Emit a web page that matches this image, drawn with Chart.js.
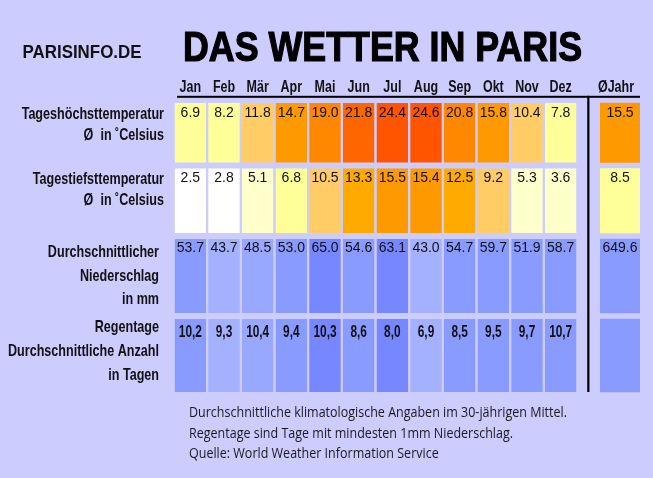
<!DOCTYPE html>
<html>
<head>
<meta charset="utf-8">
<title>Das Wetter in Paris</title>
<script src="https://cdn.jsdelivr.net/npm/chart.js@4.4.1/dist/chart.umd.min.js"></script>
<style>
	html, body { margin: 0; padding: 0; background: #ccccff; }
	#wrap { position: relative; width: 653px; height: 478px; }
</style>
</head>
<body>
<div id="wrap"><canvas id="wetter" width="653" height="478"></canvas></div>
<script>

var monate = ["Jan", "Feb", "Mär", "Apr", "Mai", "Jun", "Jul", "Aug", "Sep", "Okt", "Nov", "Dez"];
var jahrSpalte = ["", "ØJahr"];

var hoechst = [6.9, 8.2, 11.8, 14.7, 19.0, 21.8, 24.4, 24.6, 20.8, 15.8, 10.4, 7.8];
var tiefst = [2.5, 2.8, 5.1, 6.8, 10.5, 13.3, 15.5, 15.4, 12.5, 9.2, 5.3, 3.6];
var niederschlag = [53.7, 43.7, 48.5, 53.0, 65.0, 54.6, 63.1, 43.0, 54.7, 59.7, 51.9, 58.7];
var regentage = [10.2, 9.3, 10.4, 9.4, 10.3, 8.6, 8.0, 6.9, 8.5, 9.5, 9.7, 10.7];

var hoechstJahr = 15.5;
var tiefstJahr = 8.5;
var niederschlagJahr = 649.6;
var regentageJahr = null;

var zeilenTitel = [
	["Tageshöchsttemperatur", "Ø  in ˚Celsius"],
	["Tagestiefsttemperatur", "Ø  in ˚Celsius"],
	["Durchschnittlicher", "Niederschlag", "in mm"],
	["Regentage", "Durchschnittliche Anzahl", "in Tagen"]
];

var fussnote = [
	"Durchschnittliche klimatologische Angaben im 30-jährigen Mittel.",
	"Regentage sind Tage mit mindesten 1mm Niederschlag.",
	"Quelle: World Weather Information Service"
];

var HG = "#ccccff";

function farbeTemp(v){
	if (v < 3) return "#ffffff";
	if (v < 6) return "#ffffcc";
	if (v < 9) return "#ffff99";
	if (v < 12) return "#ffcc66";
	if (v < 14) return "#ffaa00";
	if (v < 18) return "#ff9900";
	if (v < 21) return "#ff8800";
	if (v < 24) return "#ff6600";
	return "#ff5500";
}

function farbeRegen(mm){
	if (mm < 45) return "#a3b1ff";
	if (mm < 50) return "#98a8ff";
	if (mm < 60) return "#8a9bff";
	return "#7787ff";
}

// Zeilen: Werte, Farben, Textformat
var zeilen = [
	{ werte: hoechst, jahr: hoechstJahr, farben: hoechst.map(farbeTemp), jahrFarbe: farbeTemp(hoechstJahr) },
	{ werte: tiefst, jahr: tiefstJahr, farben: tiefst.map(farbeTemp), jahrFarbe: farbeTemp(tiefstJahr) },
	{ werte: niederschlag, jahr: niederschlagJahr, farben: niederschlag.map(farbeRegen), jahrFarbe: farbeRegen(niederschlagJahr / 12) },
	{ werte: regentage, jahr: regentageJahr, farben: niederschlag.map(farbeRegen), jahrFarbe: farbeRegen(niederschlagJahr / 12) }
];

// Zeilenhoehen (px) und Textlage
var zeilenHoehe = [65.5, 70.5, 80, 79];
var titelRechts = [164, 164, 159, 159];
var titelErste = [15.5, 15.5, 18, 13];
var titelAbstand = [21, 21, 23.5, 24];
var wertOben = [14, 13.5, 13, 18];

var datasets = [];
zeilen.forEach(function(z, r){
	var rand = { top: 3, bottom: 3, left: 0, right: 0 };
	datasets.push({
		xAxisID: "x",
		yAxisID: "y" + r,
		data: z.werte.map(function(){ return [0, 1]; }),
		backgroundColor: z.farben,
		borderColor: HG,
		borderWidth: rand,
		borderSkipped: false,
		grouped: false,
		barPercentage: 0.94,
		categoryPercentage: 1
	});
	datasets.push({
		xAxisID: "xJ",
		yAxisID: "y" + r,
		data: [null, [0, 1]],
		backgroundColor: z.jahrFarbe,
		borderColor: HG,
		borderWidth: rand,
		borderSkipped: false,
		grouped: false,
		barThickness: 40,
		clip: false
	});
});

var scales = {
	x: { type: "category", labels: monate, position: "top", stack: "spalten", stackWeight: 404, weight: 2, offset: true, display: false },
	xJ: { type: "category", labels: jahrSpalte, position: "top", stack: "spalten", stackWeight: 56.67, weight: 1, offset: true, display: false }
};
zeilenHoehe.forEach(function(h, r){
	scales["y" + r] = { type: "linear", min: 0, max: 1, position: "left", stack: "zeilen", stackWeight: h, weight: 4 - r, display: false };
});

function schrift(ctx, text, x, y, font, sx, align, color){
	ctx.save();
	ctx.font = font;
	ctx.fillStyle = color || "#000";
	ctx.textAlign = align || "left";
	ctx.textBaseline = "alphabetic";
	ctx.translate(x, y);
	ctx.scale(sx, 1);
	ctx.fillText(text, 0, 0);
	ctx.restore();
}

function breite(ctx, text, font){
	ctx.save();
	ctx.font = font;
	var w = ctx.measureText(text).width;
	ctx.restore();
	return w;
}

var tabelleText = {
	id: "tabelleText",
	afterDraw: function(chart){
		var ctx = chart.ctx;
		var xs = chart.scales.x;
		var xj = chart.scales.xJ;
		var jahrX = xj.getPixelForValue(1);

		// Kopf
		var fLogo = "bold 17.5px 'Liberation Sans', Arial, sans-serif";
		schrift(ctx, "PARISINFO.DE", 22.5, 57.5, fLogo, 119 / breite(ctx, "PARISINFO.DE", fLogo), "left", "#111");
		var fTitel = "bold 42px 'Liberation Sans', Arial, sans-serif";
		var titel = "DAS WETTER IN PARIS";
		ctx.save();
		ctx.strokeStyle = "#000";
		ctx.lineWidth = 1.2;
		ctx.font = fTitel;
		var sxT = 399 / ctx.measureText(titel).width;
		ctx.translate(183, 61);
		ctx.scale(sxT, 1);
		ctx.fillStyle = "#000";
		ctx.fillText(titel, 0, 0);
		ctx.strokeText(titel, 0, 0);
		ctx.restore();

		// Monatsnamen
		var fMonat = "bold 16px 'Liberation Sans', Arial, sans-serif";
		monate.forEach(function(m, i){
			schrift(ctx, m, xs.getPixelForValue(i), 92, fMonat, 0.78, "center", "#111");
		});
		schrift(ctx, jahrSpalte[1], jahrX - 4, 92, fMonat, 0.78, "center", "#111");

		// Linien
		ctx.save();
		ctx.fillStyle = "#000";
		ctx.fillRect(177, 95.8, jahrX + 20 - 177, 2);
		var dezRechts = xs.getPixelForValue(11) + 15.8;
		var trenn = (dezRechts + jahrX - 20) / 2;
		ctx.fillRect(trenn - 1, 95.8, 2.2, chart.scales.y3.getPixelForValue(0) - 3 - 95.8);
		ctx.restore();

		// Zeilentitel und Werte
		var fTitelZeile = "bold 17px 'Liberation Sans', Arial, sans-serif";
		var fWert = "14px 'Liberation Sans', Arial, sans-serif";
		var fTage = "bold 16px 'Liberation Sans', Arial, sans-serif";
		zeilen.forEach(function(z, r){
			var oben = chart.scales["y" + r].getPixelForValue(1) + 3;
			zeilenTitel[r].forEach(function(t, k){
				schrift(ctx, t, titelRechts[r], oben + titelErste[r] + k * titelAbstand[r], fTitelZeile, 0.74, "right", "#111");
			});
			var alle = z.werte.concat([z.jahr]);
			alle.forEach(function(v, i){
				if (v === null) return;
				var cx = i < 12 ? xs.getPixelForValue(i) : jahrX;
				if (r === 3) {
					schrift(ctx, v.toFixed(1).replace(".", ","), cx, oben + wertOben[r], fTage, 0.74, "center", "#111");
				} else {
					schrift(ctx, v.toFixed(1), cx, oben + wertOben[r], fWert, 1, "center", "#111");
				}
			});
		});

		// Fussnote
		var fFuss = "15px 'Open Sans', 'Noto Sans', sans-serif";
		var sxF = 378 / breite(ctx, fussnote[0], fFuss);
		fussnote.forEach(function(t, k){
			schrift(ctx, t, 189, 417 + k * 20.5, fFuss, sxF, "left", "#1a1a1a");
		});
	}
};

function init_chart_wetter(){

	if( typeof (Chart) === 'undefined'){ return; }

	var wetter_settings = {
		type: 'bar',
		data: {
			labels: monate,
			datasets: datasets
		},
		options: {
			responsive: false,
			animation: false,
			events: [],
			layout: {
				padding: { left: 173.5, top: 100, right: 18.83, bottom: 83 }
			},
			plugins: {
				legend: { display: false },
				tooltip: { enabled: false }
			},
			scales: scales
		},
		plugins: [tabelleText]
	};

	new Chart(document.getElementById('wetter'), wetter_settings);
}

init_chart_wetter();

</script>
</body>
</html>
